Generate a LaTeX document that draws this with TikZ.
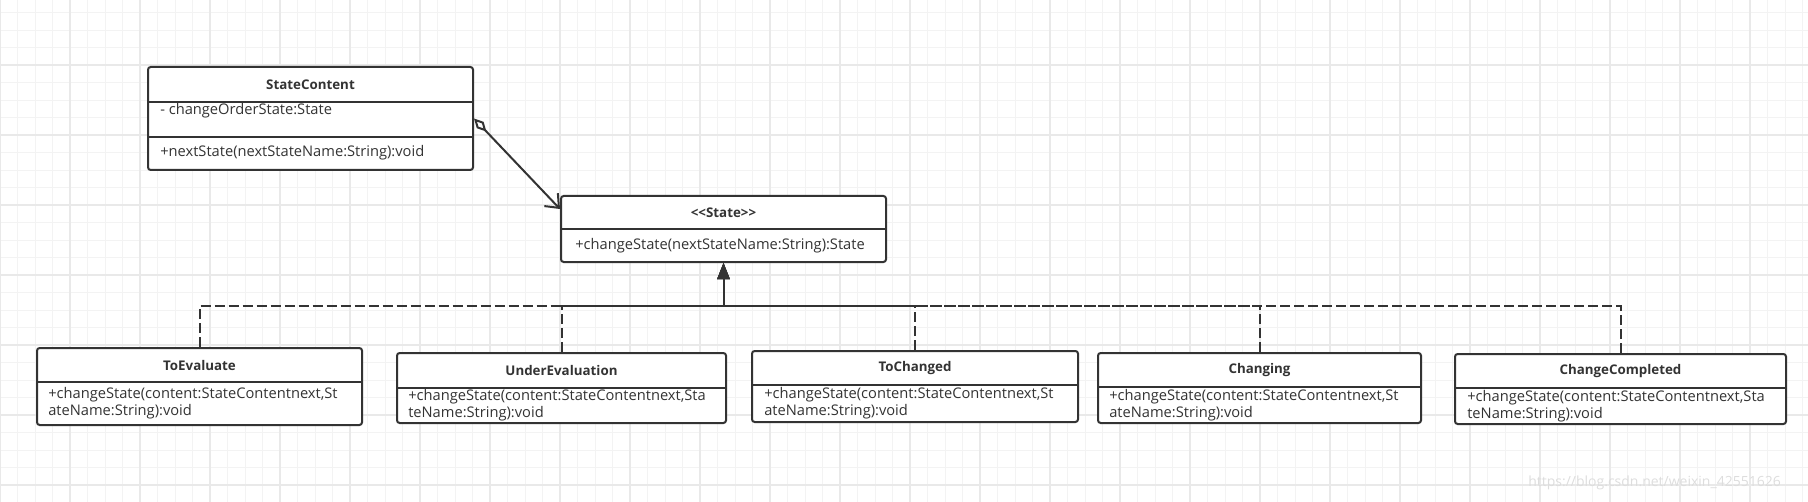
\documentclass[tikz,border=0pt]{standalone}
\usepackage{fontspec}
\setmainfont{Open Sans}
\usetikzlibrary{arrows.meta,calc,fit}
\definecolor{umlgray}{HTML}{333333}
\definecolor{gridminor}{HTML}{F3F3F3}
\definecolor{gridmajor}{HTML}{E9E9E9}
\definecolor{wmgray}{HTML}{DDDDDD}
\tikzset{
  classbox/.style={draw=umlgray, line width=1.5pt, rounded corners=2pt, fill=white, inner sep=0pt},
  divider/.style={draw=umlgray, line width=1.5pt},
  title/.style={font=\bfseries\fontsize{10}{12}\selectfont, text=umlgray, inner sep=0pt},
  member/.style={font=\fontsize{11}{13}\selectfont, text=umlgray, anchor=west, align=left, inner sep=0pt},
  realize/.style={draw=umlgray, line width=1.5pt, dash pattern=on 7.5pt off 3pt, -{Triangle[length=12pt,width=9pt]}},
}
\begin{document}
\begin{tikzpicture}[x=0.75pt,y=-0.75pt]
  \useasboundingbox (0,0) rectangle (1808,502);
  % background grid
  \foreach \gx in {0,17.5,...,1808}
    \draw[gridminor, line width=0.6pt] (\gx,0) -- (\gx,502);
  \foreach \gy in {-5,12.5,...,502}
    \draw[gridminor, line width=0.6pt] (0,\gy) -- (1808,\gy);
  \foreach \gx in {0,70,...,1808}
    \draw[gridmajor, line width=0.9pt] (\gx,0) -- (\gx,502);
  \foreach \gy in {-5,65,...,502}
    \draw[gridmajor, line width=0.9pt] (0,\gy) -- (1808,\gy);

  % context class
  \node[classbox, fit={(148,67) (473,170)}] (sc) {};
  \draw[divider] (sc.west |- 0,102) -- (sc.east |- 0,102);
  \draw[divider] (sc.west |- 0,137) -- (sc.east |- 0,137);
  \node[title] (sctitle) at (sc.north |- 0,84.5) {StateContent};
  \node[member] (scattr) at (160,111) {- changeOrderState:State};
  \node[member] (scop) at (160,153) {+nextState(nextStateName:String):void};

  % state interface
  \node[classbox, fit={(561,196) (886,262)}] (st) {};
  \draw[divider] (st.west |- 0,229) -- (st.east |- 0,229);
  \node[title] (sttitle) at (st.north |- 0,212.5) {{<}{<}State{>}{>}};
  \node[member] (stop) at (575,246) {+changeState(nextStateName:String):State};

  % concrete states
  \node[classbox, fit={(37,348) (362,425)}] (te) {};
  \draw[divider] (te.west |- 0,382) -- (te.east |- 0,382);
  \node[title] (tetitle) at (te.north |- 0,365) {ToEvaluate};
  \node[member] (teop) at (48,403) {+changeState(content:StateContentnext,St\\ateName:String):void};

  \node[classbox, fit={(397,353) (726,423)}] (ue) {};
  \draw[divider] (ue.west |- 0,388) -- (ue.east |- 0,388);
  \node[title] (uetitle) at (ue.north |- 0,370.5) {UnderEvaluation};
  \node[member] (ueop) at (408,405.5) {+changeState(content:StateContentnext,Sta\\teName:String):void};

  \node[classbox, fit={(752,351) (1078,422)}] (tc) {};
  \draw[divider] (tc.west |- 0,385) -- (tc.east |- 0,385);
  \node[title] (tctitle) at (tc.north |- 0,368) {ToChanged};
  \node[member] (tcop) at (764,403.5) {+changeState(content:StateContentnext,St\\ateName:String):void};

  \node[classbox, fit={(1098,353) (1421,423)}] (cg) {};
  \draw[divider] (cg.west |- 0,387) -- (cg.east |- 0,387);
  \node[title] (cgtitle) at (cg.north |- 0,370) {Changing};
  \node[member] (cgop) at (1109,405.5) {+changeState(content:StateContentnext,St\\ateName:String):void};

  \node[classbox, fit={(1455,354) (1786,424)}] (cc) {};
  \draw[divider] (cc.west |- 0,388) -- (cc.east |- 0,388);
  \node[title] (cctitle) at (cc.north |- 0,371) {ChangeCompleted};
  \node[member] (ccop) at (1467,406.5) {+changeState(content:StateContentnext,Sta\\teName:String):void};

  % aggregation
  \draw[umlgray, line width=1.5pt, {Diamond[fill=white,length=13.5pt,width=7pt]}-{Straight Barb[length=8.5pt,width=14pt]}]
    (sc.east) -- ($(st.north west)+(0,14)$);

  % realizations
  \coordinate (junc) at (st.south |- 0,306);
  \foreach \cls in {te,ue,tc,cg,cc}
    \draw[realize] (\cls.north) |- (junc) -- (st.south);

  \node[font=\fontsize{10.5}{12}\selectfont, text=wmgray, anchor=west, inner sep=0pt] (wm) at (1528,483) {https://blog.csdn.net/weixin\_42551626};
\end{tikzpicture}
\end{document}
